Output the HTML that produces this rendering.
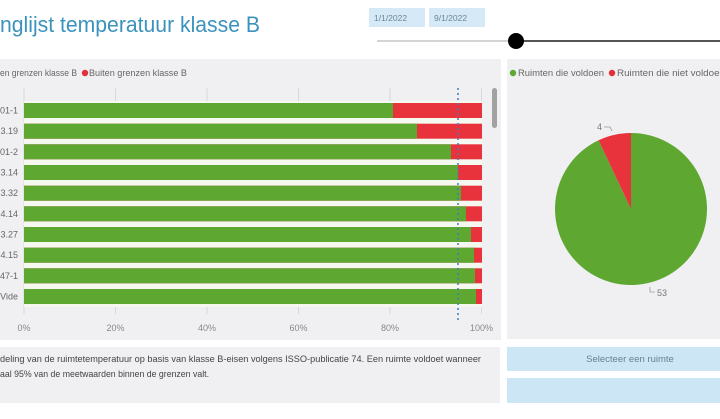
<!DOCTYPE html>
<html><head><meta charset="utf-8"><style>
html,body{margin:0;padding:0;background:#fff;width:720px;height:419px;overflow:hidden}
svg{display:block;font-family:"Liberation Sans",sans-serif}
</style></head><body>
<svg width="720" height="419" viewBox="0 0 720 419" xmlns="http://www.w3.org/2000/svg">
<rect width="720" height="419" fill="#fff"/>
<!-- title -->
<text x="0" y="32" font-size="22" fill="#3b93bd" textLength="260" lengthAdjust="spacingAndGlyphs">nglijst temperatuur klasse B</text>
<!-- date boxes -->
<rect x="369" y="8" width="56" height="19" fill="#d5e9f6"/>
<text x="374" y="21" font-size="8.5" fill="#6b8799">1/1/2022</text>
<rect x="429" y="8" width="56" height="19" fill="#d5e9f6"/>
<text x="434" y="21" font-size="8.5" fill="#6b8799">9/1/2022</text>
<!-- slider -->
<line x1="377" y1="41" x2="510" y2="41" stroke="#a8a8a8" stroke-width="1"/>
<line x1="520" y1="41" x2="720" y2="41" stroke="#555" stroke-width="2"/>
<circle cx="516" cy="41" r="8" fill="#000"/>
<!-- panels -->
<rect x="0" y="59" width="501" height="281" fill="#f0f0f2"/>
<rect x="507" y="59" width="213" height="280" fill="#f0f0f2"/>
<!-- left legend -->
<text x="0" y="76" font-size="9" fill="#666" textLength="77" lengthAdjust="spacingAndGlyphs">en grenzen klasse B</text>
<circle cx="85" cy="73" r="3.2" fill="#e0303a"/>
<text x="89" y="76" font-size="9" fill="#666" textLength="98" lengthAdjust="spacingAndGlyphs">Buiten grenzen klasse B</text>
<!-- gridlines -->
<g stroke="#d9d9db" stroke-width="1">
<line x1="24" y1="88" x2="24" y2="314"/>
<line x1="115.5" y1="88" x2="115.5" y2="314"/>
<line x1="207" y1="88" x2="207" y2="314"/>
<line x1="298.5" y1="88" x2="298.5" y2="314"/>
<line x1="390" y1="88" x2="390" y2="314"/>
<line x1="481.5" y1="88" x2="481.5" y2="314"/>
</g>
<rect x="24" y="101" width="458" height="206" fill="#f4f8ee"/>
<!-- bars -->
<g>
<rect x="24" y="103" width="458" height="15" fill="#e8333c"/><rect x="24" y="103" width="369" height="15" fill="#5ea832"/>
<rect x="24" y="123.7" width="458" height="15" fill="#e8333c"/><rect x="24" y="123.7" width="393" height="15" fill="#5ea832"/>
<rect x="24" y="144.3" width="458" height="15" fill="#e8333c"/><rect x="24" y="144.3" width="427" height="15" fill="#5ea832"/>
<rect x="24" y="165" width="458" height="15" fill="#e8333c"/><rect x="24" y="165" width="434" height="15" fill="#5ea832"/>
<rect x="24" y="185.7" width="458" height="15" fill="#e8333c"/><rect x="24" y="185.7" width="437" height="15" fill="#5ea832"/>
<rect x="24" y="206.3" width="458" height="15" fill="#e8333c"/><rect x="24" y="206.3" width="442" height="15" fill="#5ea832"/>
<rect x="24" y="227" width="458" height="15" fill="#e8333c"/><rect x="24" y="227" width="447" height="15" fill="#5ea832"/>
<rect x="24" y="247.7" width="458" height="15" fill="#e8333c"/><rect x="24" y="247.7" width="450" height="15" fill="#5ea832"/>
<rect x="24" y="268.3" width="458" height="15" fill="#e8333c"/><rect x="24" y="268.3" width="451" height="15" fill="#5ea832"/>
<rect x="24" y="289" width="458" height="15" fill="#e8333c"/><rect x="24" y="289" width="452" height="15" fill="#5ea832"/>
</g>
<!-- row labels -->
<g font-size="9" fill="#666" text-anchor="end">
<text x="18" y="113.5">01-1</text>
<text x="18" y="134.2">3.19</text>
<text x="18" y="154.8">01-2</text>
<text x="18" y="175.5">3.14</text>
<text x="18" y="196.2">3.32</text>
<text x="18" y="216.8">4.14</text>
<text x="18" y="237.5">3.27</text>
<text x="18" y="258.2">4.15</text>
<text x="18" y="278.8">47-1</text>
<text x="18" y="299.5">Vide</text>
</g>
<!-- x ticks -->
<g font-size="9" fill="#888" text-anchor="middle">
<text x="24" y="331">0%</text>
<text x="115.5" y="331">20%</text>
<text x="207" y="331">40%</text>
<text x="298.5" y="331">60%</text>
<text x="390" y="331">80%</text>
<text x="481.5" y="331">100%</text>
</g>
<!-- target line -->
<line x1="458" y1="88" x2="458" y2="320" stroke="#3a7cc2" stroke-width="1.5" stroke-dasharray="2 3"/>
<!-- scrollbar -->
<rect x="492" y="88" width="5" height="40" rx="2.5" fill="#a2a2a2"/>
<!-- right legend -->
<circle cx="513" cy="73" r="3.2" fill="#5ea832"/>
<text x="518" y="76" font-size="9" fill="#666" textLength="86" lengthAdjust="spacingAndGlyphs">Ruimten die voldoen</text>
<circle cx="612" cy="73" r="3.2" fill="#e0303a"/>
<text x="617" y="76" font-size="9" fill="#666" textLength="108" lengthAdjust="spacingAndGlyphs">Ruimten die niet voldoen</text>
<!-- pie -->
<path d="M631,209 L598.5,140.3 A76,76 0 1 0 631,133 Z" fill="#5ea832"/>
<path d="M631,209 L631,133 A76,76 0 0 0 598.5,140.3 Z" fill="#e8333c"/>
<text x="597" y="130" font-size="9" fill="#777">4</text>
<polyline points="604,127 610,127 612,131" fill="none" stroke="#999" stroke-width="0.8"/>
<text x="657" y="296" font-size="9" fill="#777">53</text>
<polyline points="650,287 650,292 655,292" fill="none" stroke="#999" stroke-width="0.8"/>
<!-- bottom -->
<rect x="0" y="347" width="500" height="56" fill="#f0f0f2"/>
<text x="0" y="362" font-size="9.5" fill="#444" textLength="481" lengthAdjust="spacingAndGlyphs">deling van de ruimtetemperatuur op basis van klasse B-eisen volgens ISSO-publicatie 74. Een ruimte voldoet wanneer</text>
<text x="0" y="377" font-size="9.5" fill="#444" textLength="209" lengthAdjust="spacingAndGlyphs">aal 95% van de meetwaarden binnen de grenzen valt.</text>
<rect x="507" y="347" width="213" height="24" fill="#cde6f5"/>
<text x="630" y="362" font-size="9.5" fill="#6a7f8c" text-anchor="middle">Selecteer een ruimte</text>
<rect x="507" y="378" width="213" height="25" fill="#cde6f5"/>
</svg>
</body></html>
